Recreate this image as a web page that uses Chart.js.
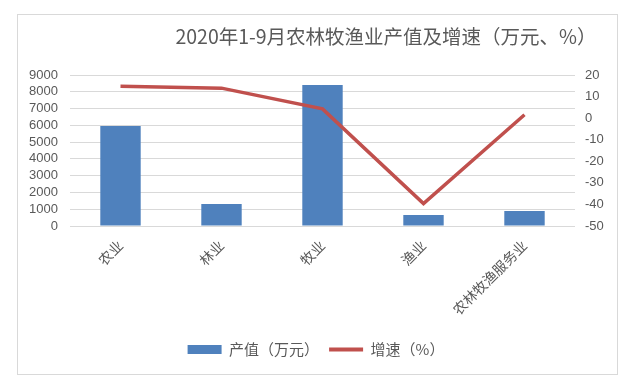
<!DOCTYPE html>
<html>
<head>
<meta charset="utf-8">
<script src="https://cdn.jsdelivr.net/npm/chart.js@4/dist/chart.umd.min.js"></script>
<style>
	html, body { margin: 0; padding: 0; background: #fff; }
	#wrap { position: relative; width: 632px; height: 387px; }
	#frame { position: absolute; left: 17px; top: 14px; width: 599px; height: 359px; border: 1px solid #d9d9d9; }
	canvas { position: absolute; left: 0; top: 0; }
</style>
</head>
<body>
<div id="wrap">
	<div id="frame"></div>
	<canvas id="chart" width="632" height="387"></canvas>
</div>
<script>
const categories = ['农业', '林业', '牧业', '渔业', '农林牧渔服务业'];
const outputValues = [5960, 1310, 8400, 660, 890];
const growthRates = [14.8, 13.9, 4.3, -39.6, 1.6];
const titleText = '2020年1-9月农林牧渔业产值及增速（万元、%）';
const seriesNames = ['产值（万元）', '增速（%）'];

const textColor = '#595959';
const cjkFont = '"Noto Sans CJK SC", "Noto Sans", sans-serif';
const numFont = '"Liberation Sans", sans-serif';

const titlePlugin = {
	id: 'sideTitle',
	afterDraw(chart) {
		const ctx = chart.ctx;
		ctx.save();
		ctx.font = '19.5px ' + cjkFont;
		ctx.fillStyle = textColor;
		ctx.textAlign = 'center';
		ctx.textBaseline = 'middle';
		ctx.fillText(titleText, 386, 37);
		ctx.restore();
	}
};

document.addEventListener('DOMContentLoaded', function () {
	const ctx = document.getElementById('chart').getContext('2d');

	new Chart(ctx, {
		type: 'bar',
		data: {
			labels: categories,
			datasets: [
				{
					label: seriesNames[0],
					data: outputValues,
					backgroundColor: '#4f81bd',
					borderWidth: 0,
					barPercentage: 0.4,
					categoryPercentage: 1,
					yAxisID: 'y',
					order: 2,
				},
				{
					type: 'line',
					label: seriesNames[1],
					data: growthRates,
					borderColor: '#c0504d',
					backgroundColor: '#c0504d',
					borderWidth: 3.5,
					pointRadius: 0,
					tension: 0,
					yAxisID: 'y1',
					order: 1,
				},
			],
		},
		options: {
			responsive: false,
			animation: false,
			layout: {
				padding: { top: 75, left: 0, right: 0, bottom: 20 },
			},
			scales: {
				x: {
					grid: { display: false, drawTicks: false },
					border: { display: false },
					ticks: {
						color: textColor,
						font: { family: cjkFont, size: 14 },
						minRotation: 45,
						maxRotation: 45,
						padding: 11,
					},
					afterFit(scale) { scale.height = 106; },
				},
				y: {
					position: 'left',
					min: 0,
					max: 9000,
					grid: { color: '#d9d9d9', lineWidth: 1, drawTicks: false },
					border: { display: false },
					ticks: {
						stepSize: 1000,
						autoSkip: false,
						color: textColor,
						font: { family: numFont, size: 13 },
						padding: 12,
						callback: v => String(v),
					},
					afterFit(scale) { scale.width = 70; },
				},
				y1: {
					position: 'right',
					min: -50,
					max: 20,
					grid: { display: false, drawTicks: false },
					border: { display: false },
					ticks: {
						stepSize: 10,
						autoSkip: false,
						color: textColor,
						font: { family: numFont, size: 13 },
						padding: 10,
						callback: v => String(v),
					},
					afterFit(scale) { scale.width = 57; },
				},
			},
			plugins: {
				title: { display: false },
				tooltip: { enabled: false },
				legend: {
					position: 'bottom',
					labels: {
						color: textColor,
						font: { family: cjkFont, size: 15 },
						usePointStyle: true,
						pointStyleWidth: 34,
						boxHeight: 9,
						padding: 10,
						generateLabels() {
							return [
								{
									text: seriesNames[0],
									fillStyle: '#4f81bd',
									strokeStyle: '#4f81bd',
									lineWidth: 0,
									pointStyle: 'rect',
									fontColor: textColor,
									datasetIndex: 0,
								},
								{
									text: seriesNames[1],
									fillStyle: '#c0504d',
									strokeStyle: '#c0504d',
									lineWidth: 4,
									pointStyle: 'line',
									fontColor: textColor,
									datasetIndex: 1,
								},
							];
						},
					},
				},
			},
		},
		plugins: [titlePlugin],
	});
});
</script>
</body>
</html>
